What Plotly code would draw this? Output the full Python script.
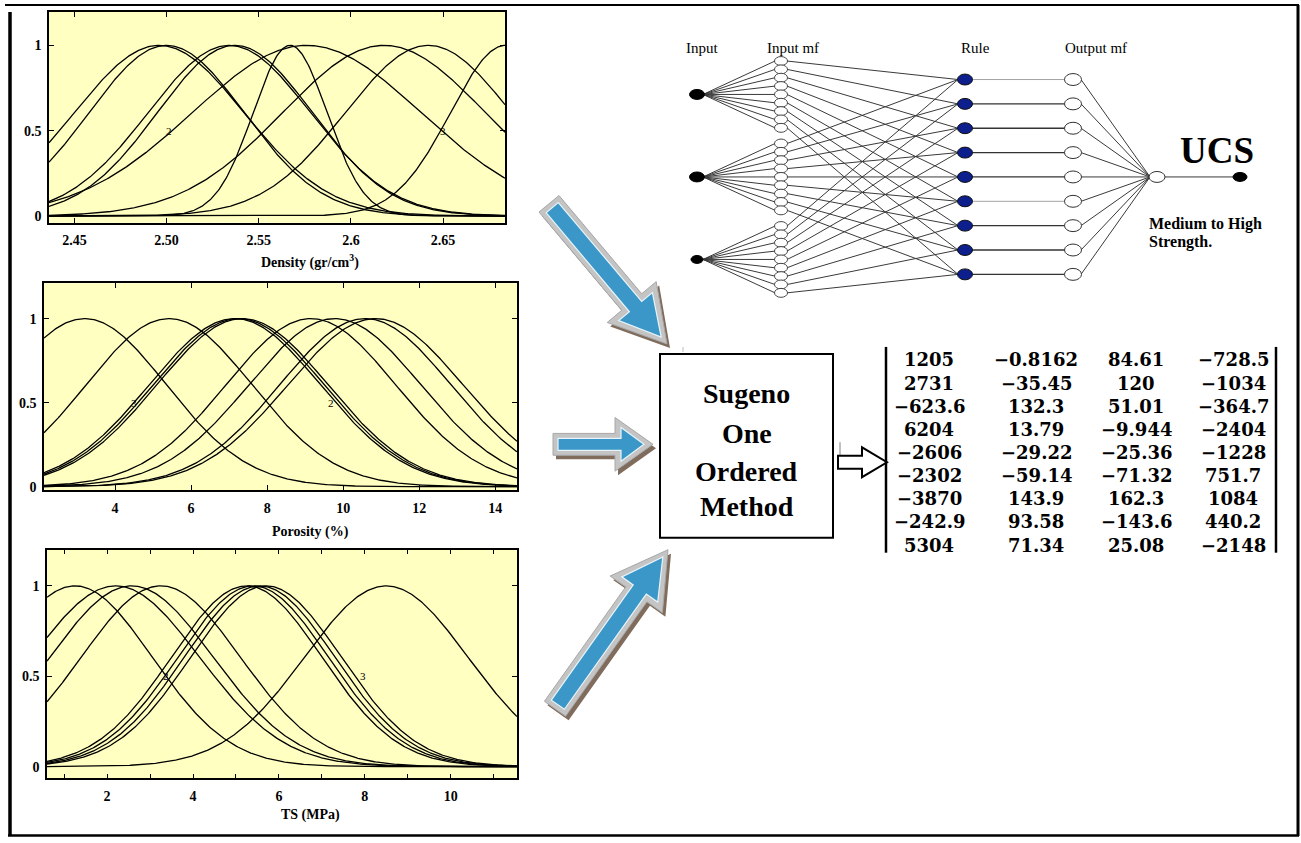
import numpy as np
import plotly.graph_objects as go

W, H = 1301, 843

# ---------------- data ----------------
# Gaussian membership functions: centres and widths for each input
density_centers = [2.496, 2.500, 2.534, 2.537, 2.567, 2.576, 2.618, 2.642, 2.684]
density_sigmas = [0.046, 0.042, 0.044, 0.042, 0.020, 0.062, 0.055, 0.045, 0.030]

porosity_centers = [3.20, 5.42, 7.15, 7.25, 7.35, 9.15, 9.78, 10.58, 10.85]
porosity_sigmas = [2.15, 2.18, 2.25, 2.25, 2.25, 2.23, 2.26, 2.25, 2.30]

ts_centers = [1.25, 2.20, 2.57, 3.25, 5.25, 5.40, 5.55, 5.70, 8.50]
ts_sigmas = [1.80, 1.95, 1.90, 1.85, 1.75, 1.75, 1.75, 1.75, 1.90]

density_ticks = [2.45, 2.50, 2.55, 2.60, 2.65]
density_ticktext = ["2.45", "2.50", "2.55", "2.6", "2.65"]
porosity_ticks = [4, 6, 8, 10, 12, 14]
porosity_ticktext = ["4", "6", "8", "10", "12", "14"]
ts_ticks = [2, 4, 6, 8, 10]
ts_ticktext = ["2", "4", "6", "8", "10"]
ts_minor_ticks = [1, 3, 5, 7, 9, 11]
y_ticks = [0, 0.5, 1]
y_ticktext = ["0", "0.5", "1"]

density_labels = [(2.5015, 0.5, "2"), (2.650, 0.5, "3")]
porosity_labels = [(4.49, 0.5, "3"), (9.69, 0.5, "2")]
ts_labels = [(3.36, 0.5, "2"), (7.97, 0.5, "3")]

# Sugeno first-order consequent parameters
matrix_rows = [
    ["1205", "\u22120.8162", "84.61", "\u2212728.5"],
    ["2731", "\u221235.45", "120", "\u22121034"],
    ["\u2212623.6", "132.3", "51.01", "\u2212364.7"],
    ["6204", "13.79", "\u22129.944", "\u22122404"],
    ["\u22122606", "\u221229.22", "\u221225.36", "\u22121228"],
    ["\u22122302", "\u221259.14", "\u221271.32", "751.7"],
    ["\u22123870", "143.9", "162.3", "1084"],
    ["\u2212242.9", "93.58", "\u2212143.6", "440.2"],
    ["5304", "71.34", "25.08", "\u22122148"],
]

n_mf = 9
n_rules = 9

# ---------------- layout helpers ----------------
SERIF = "Liberation Serif"
YELLOW = "#FFFFC2"


def dom_x(a, b):
    return [a / W, b / W]


def dom_y(top, bottom):
    return [1 - bottom / H, 1 - top / H]


panels = [
    dict(xa="x", ya="y", xd=(49, 505), yd=(12, 224), xr=[2.4362, 2.6836], yr=[-0.039, 1.196],
         c=density_centers, s=density_sigmas, tv=density_ticks, tt=density_ticktext,
         minor=None, lab=density_labels, title="Density (gr/cm<sup>3</sup>)", ty=263),
    dict(xa="x2", ya="y2", xd=(44, 517), yd=(285, 493), xr=[2.133, 14.57], yr=[-0.02, 1.21],
         c=porosity_centers, s=porosity_sigmas, tv=porosity_ticks, tt=porosity_ticktext,
         minor=None, lab=porosity_labels, title="Porosity (%)", ty=535),
    dict(xa="x3", ya="y3", xd=(47, 517), yd=(553, 783), xr=[0.60, 11.545], yr=[-0.065, 1.2],
         c=ts_centers, s=ts_sigmas, tv=ts_ticks, tt=ts_ticktext,
         minor=ts_minor_ticks, lab=ts_labels, title="TS (MPa)", ty=820),
]

fig = go.Figure()
shapes = []
annotations = []
layout_axes = {}

tickfont = dict(family=SERIF, size=14, color="black", weight="bold")

for i, p in enumerate(panels):
    xs = np.linspace(p["xr"][0], p["xr"][1], 400)
    for c, s in zip(p["c"], p["s"]):
        ys = np.exp(-((xs - c) ** 2) / (2 * s ** 2))
        fig.add_trace(go.Scatter(x=xs, y=ys, mode="lines", xaxis=p["xa"], yaxis=p["ya"],
                                 line=dict(color="black", width=1.3), showlegend=False,
                                 hoverinfo="skip"))
    xname = "xaxis" if i == 0 else f"xaxis{i+1}"
    yname = "yaxis" if i == 0 else f"yaxis{i+1}"
    xax = dict(domain=dom_x(*p["xd"]), range=p["xr"], anchor=p["ya"],
               tickmode="array", tickvals=p["tv"], ticktext=p["tt"],
               ticks="inside", ticklen=5, tickcolor="black", tickwidth=1,
               showline=True, linecolor="black", linewidth=1.5, mirror="allticks",
               showgrid=False, zeroline=False, tickfont=tickfont,
               ticklabelstandoff=4, fixedrange=True)
    if p["minor"]:
        xax["minor"] = dict(tickmode="array", tickvals=p["minor"], ticks="inside", ticklen=5,
                            tickcolor="black", tickwidth=1, showgrid=False)
    layout_axes[xname] = xax
    layout_axes[yname] = dict(domain=dom_y(*p["yd"]), range=p["yr"], anchor=p["xa"],
                              tickmode="array", tickvals=y_ticks, ticktext=y_ticktext,
                              ticks="inside", ticklen=5, tickcolor="black", tickwidth=1,
                              showline=True, linecolor="black", linewidth=1.5, mirror="allticks",
                              showgrid=False, zeroline=False, tickfont=tickfont,
                              ticklabelstandoff=3, fixedrange=True)
    shapes.append(dict(type="rect", xref=f"{p['xa']} domain", yref=f"{p['ya']} domain",
                       x0=0, x1=1, y0=0, y1=1, fillcolor=YELLOW, line=dict(width=0),
                       layer="below"))
    for (lx, ly, lt) in p["lab"]:
        annotations.append(dict(x=lx, y=ly, xref=p["xa"], yref=p["ya"], text=lt,
                                showarrow=False, font=dict(family=SERIF, size=11, color="black")))
    annotations.append(dict(x=310, y=p["ty"], xref="x4", yref="y4", text=p["title"],
                            showarrow=False, font=dict(family=SERIF, size=14, color="black",
                                                       weight="bold")))

# overlay pixel axis for the diagram
layout_axes["xaxis4"] = dict(domain=[0, 1], range=[0, W], anchor="y4", visible=False,
                             fixedrange=True)
layout_axes["yaxis4"] = dict(domain=[0, 1], range=[H, 0], anchor="x4", visible=False,
                             fixedrange=True)

# ---------------- ANFIS network ----------------
input_x = 697
input_y = [95, 178, 261]
mf_x = 781
mf_step = 8.4
rule_x = 965
outmf_x = 1073
rule_y0, rule_step = 80, 24.5
agg = (1157, 178)
out_node = (1240, 178)

rule_y = [rule_y0 + rule_step * k for k in range(n_rules)]
mf_y = [[iy + (k - (n_mf - 1) / 2) * mf_step for k in range(n_mf)] for iy in input_y]

ex, ey = [], []
for j, iy in enumerate(input_y):
    for k in range(n_mf):
        ex += [input_x + 6, mf_x - 6, None]
        ey += [iy, mf_y[j][k], None]
for j in range(3):
    for k in range(n_mf):
        ex += [mf_x + 6, rule_x - 7, None]
        ey += [mf_y[j][k], rule_y[k], None]
for k in range(n_rules):
    ex += [outmf_x + 8, agg[0] - 7, None]
    ey += [rule_y[k], agg[1], None]
ex += [agg[0] + 7, out_node[0] - 6, None]
ey += [agg[1], out_node[1], None]
fig.add_trace(go.Scatter(x=ex, y=ey, mode="lines", xaxis="x4", yaxis="y4",
                         line=dict(color="#3a3a3a", width=1.0), showlegend=False,
                         hoverinfo="skip"))
# rule -> output mf (horizontal)
for k in range(n_rules):
    light = k in (0, 5)
    fig.add_trace(go.Scatter(x=[rule_x + 7, outmf_x - 8], y=[rule_y[k], rule_y[k]],
                             mode="lines", xaxis="x4", yaxis="y4",
                             line=dict(color="#9a9a9a" if light else "#333333",
                                       width=0.9 if light else 1.3),
                             showlegend=False, hoverinfo="skip"))


def ellipse(cx, cy, w, h, fill, lw=1, lc="black"):
    return dict(type="circle", xref="x4", yref="y4", x0=cx - w / 2, x1=cx + w / 2,
                y0=cy - h / 2, y1=cy + h / 2, fillcolor=fill, line=dict(color=lc, width=lw),
                layer="above")


for j, iy in enumerate(input_y):
    sz = (15, 10) if j < 2 else (12, 8)
    shapes.append(ellipse(input_x, iy, sz[0], sz[1], "black"))
    for k in range(n_mf):
        shapes.append(ellipse(mf_x, mf_y[j][k], 13, 9, "white", 0.9, "#333"))
for k in range(n_rules):
    shapes.append(ellipse(rule_x, rule_y[k], 15, 11, "#0c1f8c", 1, "#111"))
    shapes.append(ellipse(outmf_x, rule_y[k], 17, 12, "white", 1, "#333"))
shapes.append(ellipse(agg[0], agg[1], 16, 11, "white", 1, "#333"))
shapes.append(ellipse(out_node[0], out_node[1], 14, 9, "black"))

for txt, x in [("Input", 702), ("Input mf", 793), ("Rule", 975), ("Output mf", 1096)]:
    annotations.append(dict(x=x, y=48, xref="x4", yref="y4", text=txt, showarrow=False,
                            font=dict(family=SERIF, size=15, color="black")))
annotations.append(dict(x=1217, y=151, xref="x4", yref="y4", text="UCS", showarrow=False,
                        font=dict(family=SERIF, size=37, color="black", weight="bold")))
annotations.append(dict(x=1147, y=225, xref="x4", yref="y4", text="Medium to High",
                        xanchor="left", showarrow=False,
                        font=dict(family=SERIF, size=16, color="black", weight="bold")))
annotations.append(dict(x=1147, y=243, xref="x4", yref="y4", text="Strength.",
                        xanchor="left", showarrow=False,
                        font=dict(family=SERIF, size=16, color="black", weight="bold")))


# ---------------- block arrows ----------------
def arrow_pts(tail, tip, bw, hw, hl):
    tx, ty = tail
    px, py = tip
    dx, dy = px - tx, py - ty
    L = (dx * dx + dy * dy) ** 0.5
    ux, uy = dx / L, dy / L
    nx, ny = -uy, ux
    bx, by = px - ux * hl, py - uy * hl
    return [(tx + nx * bw, ty + ny * bw), (bx + nx * bw, by + ny * bw),
            (bx + nx * hw, by + ny * hw), (px, py), (bx - nx * hw, by - ny * hw),
            (bx - nx * bw, by - ny * bw), (tx - nx * bw, ty - ny * bw)]


def path_of(pts, ox=0, oy=0):
    return "M " + " L ".join(f"{x + ox:.1f},{y + oy:.1f}" for x, y in pts) + " Z"


def block_arrow(tail, tip, bw, hw, hl):
    tx, ty = tail
    px, py = tip
    dx, dy = px - tx, py - ty
    L = (dx * dx + dy * dy) ** 0.5
    ux, uy = dx / L, dy / L
    outer = arrow_pts(tail, tip, bw, hw, hl)
    inner = arrow_pts((tx + ux * 5, ty + uy * 5), (px - ux * 9, py - uy * 9),
                      bw - 5, hw - 10, hl - 15)
    res = [
        dict(type="path", xref="x4", yref="y4", path=path_of(outer, 3, 4),
             fillcolor="#7f6c5c", line=dict(width=0), layer="above"),
        dict(type="path", xref="x4", yref="y4", path=path_of(outer),
             fillcolor="#c4c4c4", line=dict(color="#a8a8a8", width=1), layer="above"),
        dict(type="path", xref="x4", yref="y4", path=path_of(inner),
             fillcolor="#3a97c8", line=dict(color="#e8f4fa", width=1.2), layer="above"),
    ]
    return res


shapes += block_arrow((549, 205), (667, 346), 13, 32, 55)
shapes += block_arrow((553, 447), (653, 447), 11, 27, 38)
shapes += block_arrow((555, 713), (668, 553), 13, 32, 55)

# ---------------- Sugeno box ----------------
box = (660, 356, 833, 541)
shapes.append(dict(type="rect", xref="x4", yref="y4", x0=box[0], y0=box[1], x1=box[2],
                   y1=box[3], line=dict(color="black", width=2), fillcolor="white",
                   layer="above"))
for txt, y in [("Sugeno", 396), ("One", 436), ("Ordered", 474), ("Method", 510)]:
    annotations.append(dict(x=746.5, y=y, xref="x4", yref="y4", text=txt, showarrow=False,
                            font=dict(family=SERIF, size=28, color="black", weight="bold")))
shapes.append(dict(type="line", xref="x4", yref="y4", x0=683, x1=683, y0=349, y1=354,
                   line=dict(color="#bbbbbb", width=1)))
shapes.append(dict(type="line", xref="x4", yref="y4", x0=840, x1=840, y0=445, y1=460,
                   line=dict(color="#aaaaaa", width=1.5)))

# white outline arrow
wa = arrow_pts((838, 465), (887, 465), 6.5, 15, 25)
shapes.append(dict(type="path", xref="x4", yref="y4", path=path_of(wa), fillcolor="white",
                   line=dict(color="black", width=2), layer="above"))

# ---------------- matrix ----------------
col_x = [929, 1036, 1136, 1233]
row_y0, row_step = 362, 23.3
for r, row in enumerate(matrix_rows):
    for cidx, val in enumerate(row):
        annotations.append(dict(x=col_x[cidx], y=row_y0 + r * row_step, xref="x4", yref="y4",
                                text=val, showarrow=False,
                                font=dict(family="DejaVu Serif", size=18, color="black",
                                          weight="bold")))
for bx in (886, 1276):
    shapes.append(dict(type="line", xref="x4", yref="y4", x0=bx, x1=bx, y0=349, y1=556,
                       line=dict(color="black", width=2.5)))

# ---------------- outer frame ----------------
for (x0, y0, x1, y1, w) in [(5, 5, 1299, 5, 2), (1298, 5, 1298, 841, 3),
                            (8, 840.5, 1299, 840.5, 2.5), (10, 12, 10, 841, 3.5)]:
    shapes.append(dict(type="line", xref="x4", yref="y4", x0=x0, x1=x1, y0=y0, y1=y1,
                       line=dict(color="black", width=w)))

fig.update_layout(
    width=W, height=H, margin=dict(l=0, r=0, t=0, b=0),
    paper_bgcolor="white", plot_bgcolor="rgba(0,0,0,0)",
    showlegend=False, shapes=shapes, annotations=annotations,
    **layout_axes,
)

fig.write_html("out.html", config={"displayModeBar": False},
               post_script="document.body.style.margin='0px';")
